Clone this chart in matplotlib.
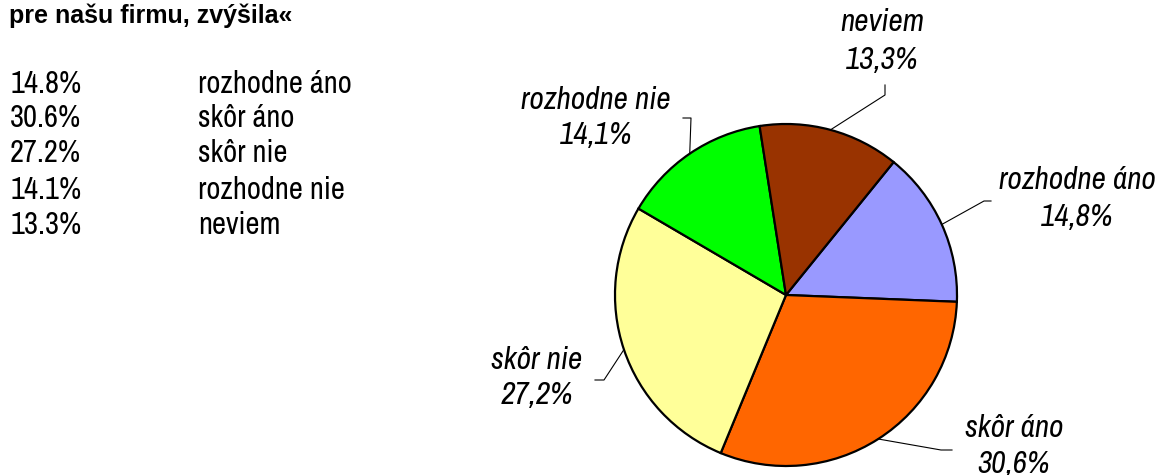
import matplotlib
matplotlib.use("Agg")
import matplotlib.pyplot as plt
import numpy as np

# ---- data ----
categories = ["rozhodne áno", "skôr áno", "skôr nie", "rozhodne nie", "neviem"]
values = [14.8, 30.6, 27.2, 14.1, 13.3]
colors = ["#9999FF", "#FF6600", "#FFFF99", "#00FF00", "#993300"]
title_text = "pre našu firmu, zvýšila«"

W, H = 1160, 475
fig = plt.figure(figsize=(W / 100, H / 100), dpi=100)
ax = fig.add_axes([0, 0, 1, 1])

FONT = ["Archivo Narrow", "Liberation Sans", "DejaVu Sans"]
TFONT = ["Liberation Sans", "DejaVu Sans"]
FS = 22

def Y(y):
    return H - y

cx, cy, r = 786, Y(295), 171
wedges, _ = ax.pie(values, colors=colors, startangle=51, counterclock=False,
                   center=(cx, cy), radius=r,
                   wedgeprops=dict(edgecolor="black", linewidth=1.6))
ax.set_xlim(0, W)
ax.set_ylim(0, H)
ax.set_aspect("equal")
ax.axis("off")

# title and table
fig.text(9, Y(23), title_text, transform=None, fontsize=18, fontweight="bold",
         family=TFONT, va="baseline", ha="left")
row_y = [84, 118, 153, 190, 225]
for v, c, yy in zip(values, categories, row_y):
    ax.text(10, Y(yy), f"{v:.1f}%", fontsize=FS, family=FONT, va="center", ha="left")
    ax.text(198, Y(yy), c, fontsize=FS, family=FONT, va="center", ha="left")

# label layout: (text center x, name y, pct y, elbow points)
layout = {
    "rozhodne áno": (1077, 180, 217, [(984, 201), (991, 201)]),
    "skôr áno": (1014, 428, 464, [(941, 450), (952, 450)]),
    "skôr nie": (537, 360, 395, [(604, 380), (595, 380)]),
    "rozhodne nie": (596, 100, 135, [(691, 118), (683, 118)]),
    "neviem": (882, 22, 60, [(885, 95), (885, 85)]),
}

for w, c, v in zip(wedges, categories, values):
    tx, ny, py, elbow = layout[c]
    ang = np.deg2rad((w.theta1 + w.theta2) / 2)
    sx, sy = cx + r * np.cos(ang), cy + r * np.sin(ang)
    xs = [sx] + [p[0] for p in elbow]
    ys = [sy] + [Y(p[1]) for p in elbow]
    ax.plot(xs, ys, color="black", lw=0.8)
    ax.text(tx, Y(ny), c, fontsize=FS + 0.5, style="italic", family=FONT, ha="center", va="center")
    ax.text(tx, Y(py), f"{v:.1f}%".replace(".", ","), fontsize=FS + 0.5, style="italic",
            family=FONT, ha="center", va="center")

fig.savefig("out.png", dpi=100)
